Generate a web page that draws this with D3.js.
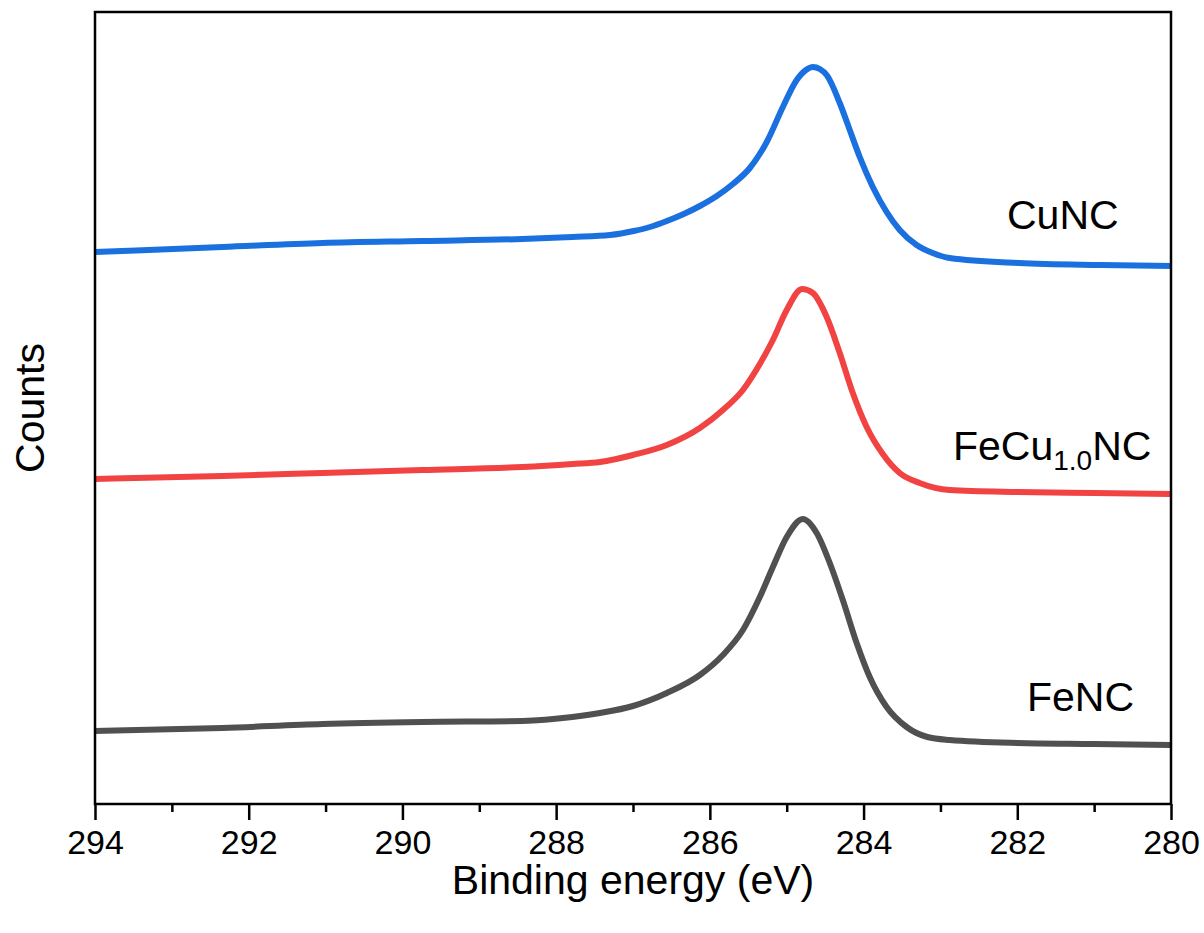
<!DOCTYPE html>
<html>
<head>
<meta charset="utf-8">
<script src="https://cdn.jsdelivr.net/npm/d3@7"></script>
<style>
  html, body { margin: 0; padding: 0; background: #fff; }
  svg { display: block; font-family: Arial, "Liberation Sans", sans-serif; }
</style>
</head>
<body>
<svg id="chart" width="1204" height="933"></svg>
<script>
// C 1s spectra (binding energy in eV, counts in arbitrary offset units)
const energyCu = [294.0, 292.34, 291.04, 289.74, 288.44, 287.79, 287.30, 286.99, 286.78, 286.56, 286.34, 286.13, 285.91, 285.70, 285.48, 285.26, 285.05, 284.87, 284.75, 284.66, 284.57, 284.48, 284.31, 284.18, 284.05, 283.88, 283.70, 283.53, 283.31, 283.10, 282.88, 281.98, 280.92, 280.0];
const countsCuNC = [552, 557, 561, 563, 565, 567, 569, 573, 577, 583, 590, 598, 608, 620, 636, 662, 697, 724, 734, 737, 735, 729, 701, 674, 647, 617, 592, 574, 559, 551, 546, 541, 539, 538];

const energyFeCu = [294.0, 292.34, 291.04, 289.74, 288.44, 287.79, 287.43, 287.00, 286.56, 286.13, 285.83, 285.57, 285.35, 285.18, 285.00, 284.80, 284.66, 284.48, 284.31, 284.14, 283.96, 283.75, 283.53, 283.27, 282.88, 282.0, 281.0, 280.0];
const countsFeCuNC = [325, 328, 331, 334, 337, 340, 342, 349, 359, 376, 394, 414, 440, 464, 494, 515, 511, 487, 451, 411, 377, 350, 331, 321, 314, 312, 311, 310];

const energyFe = [294.0, 292.34, 291.04, 289.74, 288.44, 287.79, 287.43, 287.00, 286.56, 286.13, 285.83, 285.57, 285.35, 285.18, 285.00, 284.79, 284.61, 284.44, 284.27, 284.09, 283.92, 283.70, 283.44, 283.17, 282.88, 282.0, 281.0, 280.0];
const countsFeNC = [73, 76, 80, 82, 83, 87, 91, 98, 111, 129, 149, 174, 207, 237, 267, 285, 271, 241, 204, 161, 127, 97, 77, 67, 64, 61, 60, 59];

const seriesNames = ["CuNC", "FeCuNC", "FeNC"];
const seriesColors = ["#1b70e0", "#f24343", "#505050"];
const majorTicks = [294, 292, 290, 288, 286, 284, 282, 280];
const minorTicks = [293, 291, 289, 287, 285, 283, 281];

const series = [
  { name: seriesNames[0], x: energyCu, y: countsCuNC, color: seriesColors[0] },
  { name: seriesNames[1], x: energyFeCu, y: countsFeCuNC, color: seriesColors[1] },
  { name: seriesNames[2], x: energyFe, y: countsFeNC, color: seriesColors[2] }
];

const svg = d3.select("#chart");
const plotLeft = 95, plotRight = 1171, plotTop = 12, plotBottom = 804;

const x = d3.scaleLinear().domain([294, 280]).range([plotLeft, plotRight]);
const y = d3.scaleLinear().domain([0, 792]).range([plotBottom, plotTop]);

// spectra as smooth functions of energy (points run left to right on screen)
const line = d3.line()
  .x(d => x(d[0]))
  .y(d => y(d[1]))
  .curve(d3.curveMonotoneX);

const plot = svg.append("g");
series.forEach(s => {
  const pts = s.x.map((e, i) => [e, s.y[i]]);
  plot.append("path")
    .datum(pts)
    .attr("d", line)
    .attr("fill", "none")
    .attr("stroke", s.color)
    .attr("stroke-width", 6)
    .attr("stroke-linejoin", "round");
});

// frame
svg.append("rect")
  .attr("x", plotLeft).attr("y", plotTop)
  .attr("width", plotRight - plotLeft).attr("height", plotBottom - plotTop)
  .attr("fill", "none")
  .attr("stroke", "#000")
  .attr("stroke-width", 2.5);

// bottom axis: major ticks with labels, minor ticks without
const xAxis = d3.axisBottom(x)
  .tickValues(majorTicks)
  .tickSize(16)
  .tickPadding(10)
  .tickFormat(d3.format("d"));
const gx = svg.append("g")
  .attr("transform", `translate(0,${plotBottom})`)
  .call(xAxis);
gx.select(".domain").remove();
gx.selectAll(".tick line").attr("stroke", "#000").attr("stroke-width", 2.5);
gx.selectAll(".tick text")
  .attr("font-size", 34)
  .attr("font-family", "Arial, 'Liberation Sans', sans-serif")
  .attr("fill", "#000");

const gxMinor = svg.append("g")
  .attr("transform", `translate(0,${plotBottom})`)
  .call(d3.axisBottom(x).tickValues(minorTicks).tickSize(8).tickFormat(""));
gxMinor.select(".domain").remove();
gxMinor.selectAll(".tick line").attr("stroke", "#000").attr("stroke-width", 2.5);

// axis titles
svg.append("text")
  .attr("x", (plotLeft + plotRight) / 2)
  .attr("y", 894)
  .attr("text-anchor", "middle")
  .attr("font-size", 41)
  .attr("fill", "#000")
  .text("Binding energy (eV)");

svg.append("text")
  .attr("transform", `translate(44,${(plotTop + plotBottom) / 2}) rotate(-90)`)
  .attr("text-anchor", "middle")
  .attr("font-size", 41)
  .attr("fill", "#000")
  .text("Counts");

// series labels
svg.append("text")
  .attr("x", 1007).attr("y", 229)
  .attr("font-size", 41)
  .attr("fill", "#000")
  .text("CuNC");

const feCu = svg.append("text")
  .attr("x", 953).attr("y", 460)
  .attr("font-size", 41)
  .attr("fill", "#000");
feCu.append("tspan").text("FeCu");
feCu.append("tspan").attr("font-size", 28).attr("dy", 10).text("1.0");
feCu.append("tspan").attr("dy", -10).text("NC");

svg.append("text")
  .attr("x", 1027).attr("y", 711)
  .attr("font-size", 41)
  .attr("fill", "#000")
  .text("FeNC");
</script>
</body>
</html>
